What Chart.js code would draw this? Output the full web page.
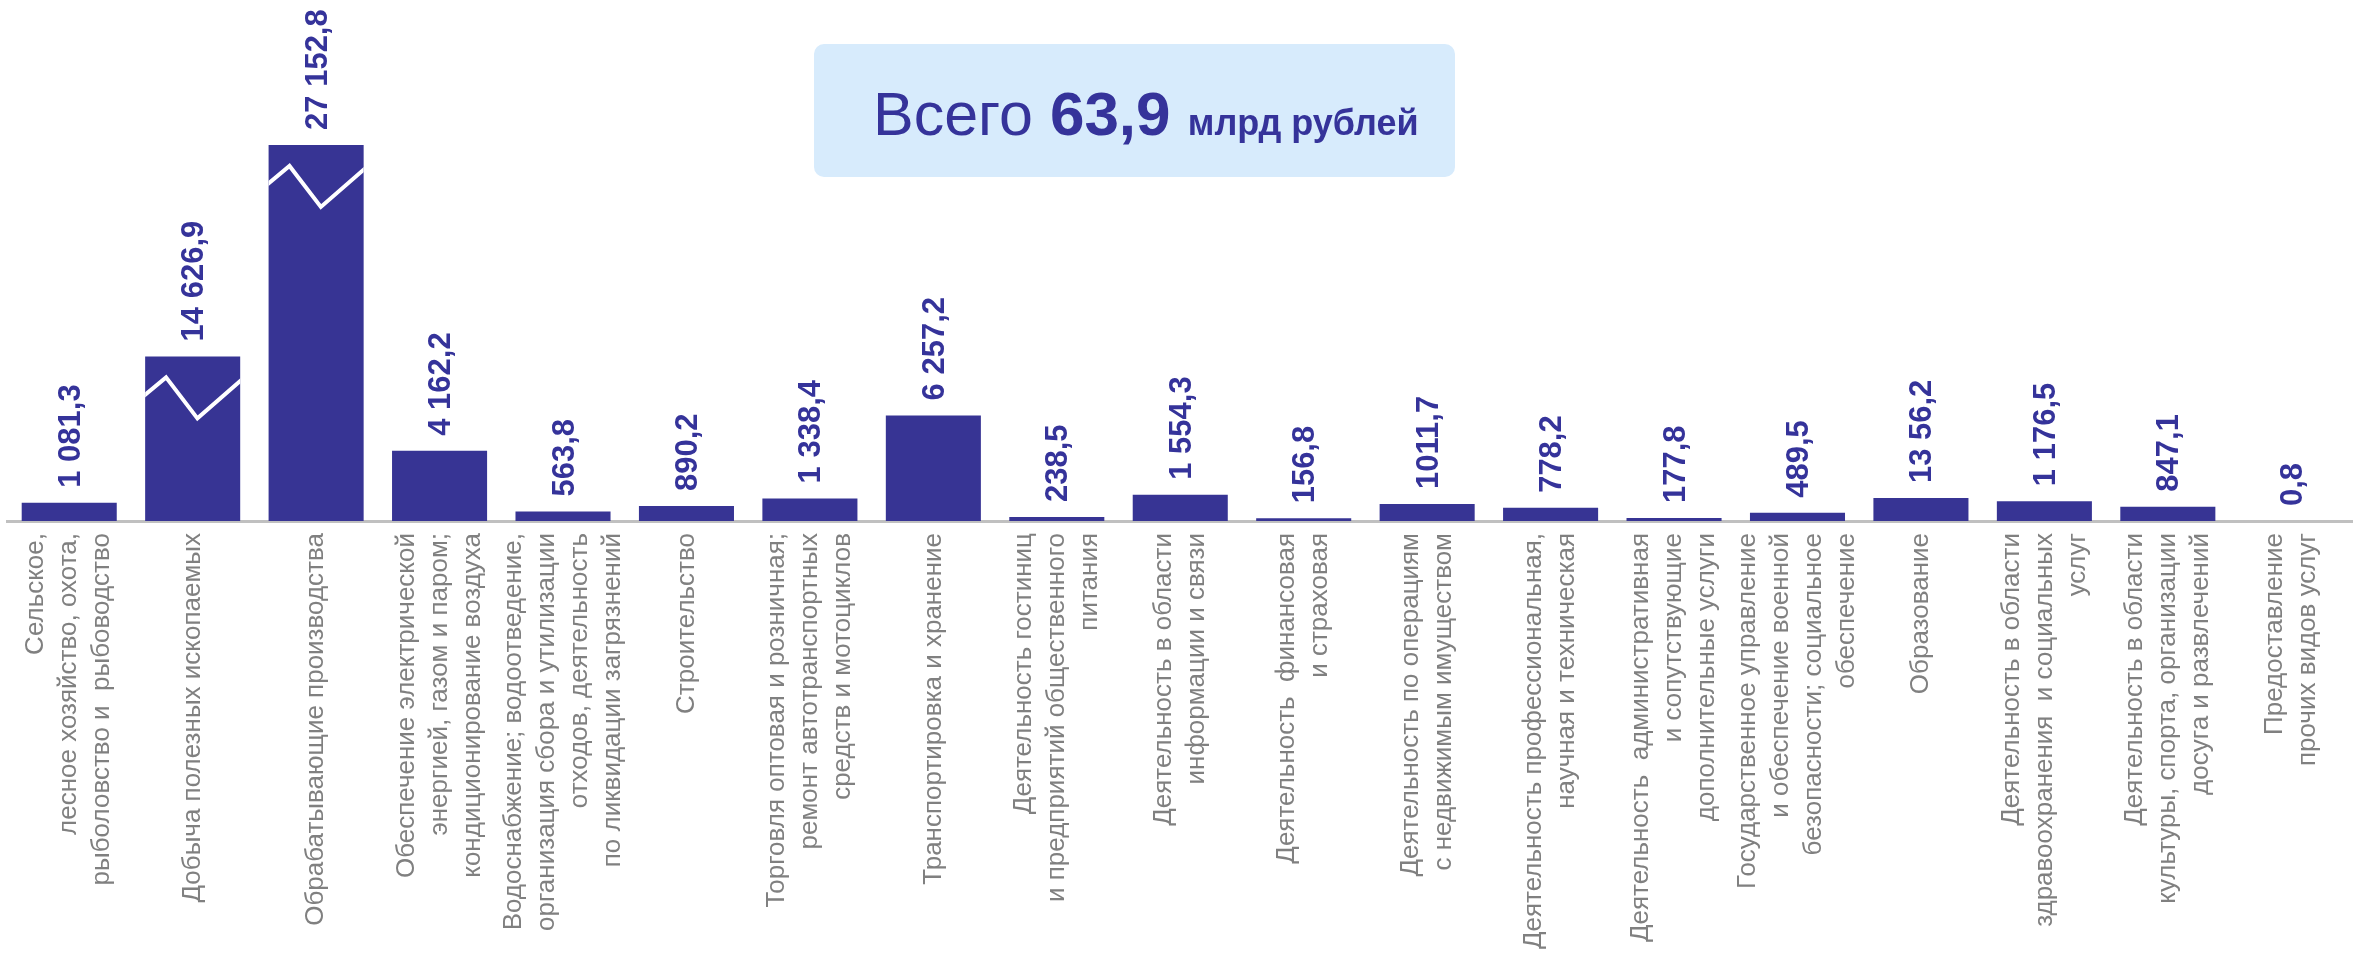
<!DOCTYPE html>
<html>
<head>
<meta charset="utf-8">
<script src="https://cdn.jsdelivr.net/npm/chart.js@4.4.0/dist/chart.umd.min.js"></script>
<style>
  html, body { margin: 0; padding: 0; background: #ffffff; }
  #wrap { width: 2353px; height: 965px; position: relative; }
  canvas { display: block; }
</style>
</head>
<body>
<div id="wrap"><canvas id="chart" width="2353" height="965"></canvas></div>
<script>
// ---------- data ----------
const categories = [
  ["Сельское,", "лесное хозяйство, охота,", "рыболовство и  рыбоводство"],
  ["Добыча полезных ископаемых"],
  ["Обрабатывающие производства"],
  ["Обеспечение электрической", "энергией, газом и паром;", "кондиционирование воздуха"],
  ["Водоснабжение; водоотведение,", "организация сбора и утилизации", "отходов, деятельность", "по ликвидации загрязнений"],
  ["Строительство"],
  ["Торговля оптовая и розничная;", "ремонт автотранспортных", "средств и мотоциклов"],
  ["Транспортировка и хранение"],
  ["Деятельность гостиниц", "и предприятий общественного", "питания"],
  ["Деятельность в области", "информации и связи"],
  ["Деятельность  финансовая", "и страховая"],
  ["Деятельность по операциям", "с недвижимым имуществом"],
  ["Деятельность профессиональная,", "научная и техническая"],
  ["Деятельность  административная", "и сопутствующие", "дополнительные услуги"],
  ["Государственное управление", "и обеспечение военной", "безопасности; социальное", "обеспечение"],
  ["Образование"],
  ["Деятельность в области", "здравоохранения  и социальных", "услуг"],
  ["Деятельность в области", "культуры, спорта, организации", "досуга и развлечений"],
  ["Предоставление", "прочих видов услуг"]
];
const values = [1081.3, 14626.9, 27152.8, 4162.2, 563.8, 890.2, 1338.4, 6257.2, 238.5, 1554.3,
                156.8, 1011.7, 778.2, 177.8, 489.5, 1356.2, 1176.5, 847.1, 0.8];
const valueLabels = ["1 081,3", "14 626,9", "27 152,8", "4 162,2", "563,8", "890,2", "1 338,4", "6 257,2",
                     "238,5", "1 554,3", "156,8", "1011,7", "778,2", "177,8", "489,5", "13 56,2",
                     "1 176,5", "847,1", "0,8"];
const totalWord = "Всего";
const totalValue = "63,9";
const totalUnit = "млрд рублей";

// ---------- styles ----------
const FONT = '"Liberation Sans", Arial, Helvetica, sans-serif';
const BAR_COLOR = '#373494';
const VALUE_COLOR = '#35339a';
const CAT_COLOR = '#808080';

// ---------- broken (gap) linear scale ----------
class BrokenLinearScale extends Chart.LinearScale {
  squash(v) {
    const g = this.options.gap;
    if (!g) return v;
    if (v <= g.from) return v;
    if (v >= g.to) return v - (g.to - g.from);
    return g.from;
  }
  getPixelForValue(value) {
    if (value === null || value === undefined || isNaN(value)) return NaN;
    const lo = this.squash(this.min), hi = this.squash(this.max);
    return this.getPixelForDecimal((this.squash(value) - lo) / (hi - lo));
  }
  getValueForPixel(pixel) {
    const lo = this.squash(this.min), hi = this.squash(this.max);
    const s = lo + this.getDecimalForPixel(pixel) * (hi - lo);
    const g = this.options.gap;
    return (g && s > g.from) ? s + (g.to - g.from) : s;
  }
}
BrokenLinearScale.id = 'brokenLinear';
Chart.register(BrokenLinearScale);

// ---------- plugins ----------
const barDecor = {
  id: 'barDecor',
  afterDatasetsDraw(chart) {
    const ctx = chart.ctx;
    const meta = chart.getDatasetMeta(0);
    const gap = chart.scales.y.options.gap;
    ctx.save();
    // break marks on the bars that cross the axis gap
    meta.data.forEach((bar, i) => {
      if (!(values[i] > gap.to)) return;
      const w = bar.width, left = bar.x - w / 2, right = bar.x + w / 2, top = bar.y;
      ctx.save();
      ctx.beginPath();
      ctx.rect(left, top, w, bar.base - top);
      ctx.clip();
      ctx.beginPath();
      ctx.moveTo(left - 2, top + 40);
      ctx.lineTo(left + 0.22 * w, top + 21);
      ctx.lineTo(left + 0.55 * w, top + 62);
      ctx.lineTo(right + 2, top + 23);
      ctx.strokeStyle = '#ffffff';
      ctx.lineWidth = 4;
      ctx.lineJoin = 'miter';
      ctx.stroke();
      ctx.restore();
    });
    // value labels
    ctx.font = 'bold 31px ' + FONT;
    ctx.fillStyle = VALUE_COLOR;
    ctx.textAlign = 'left';
    ctx.textBaseline = 'middle';
    meta.data.forEach((bar, i) => {
      ctx.save();
      ctx.translate(bar.x + 2, bar.y - 15);
      ctx.rotate(-Math.PI / 2);
      ctx.fillText(valueLabels[i], 0, 0);
      ctx.restore();
    });
    ctx.restore();
  }
};

const categoryLabels = {
  id: 'categoryLabels',
  afterDraw(chart) {
    const ctx = chart.ctx;
    const xs = chart.scales.x;
    const top = chart.chartArea.bottom + 12;
    const lineH = 33;
    ctx.save();
    ctx.font = '26px ' + FONT;
    ctx.fillStyle = CAT_COLOR;
    ctx.textAlign = 'right';
    ctx.textBaseline = 'middle';
    categories.forEach((lines, i) => {
      const cx = xs.getPixelForValue(i);
      const n = lines.length;
      lines.forEach((line, j) => {
        ctx.save();
        ctx.translate(cx + (j - (n - 1) / 2) * lineH, top);
        ctx.rotate(-Math.PI / 2);
        ctx.fillText(line, 0, 0);
        ctx.restore();
      });
    });
    ctx.restore();
  }
};

const totalBox = {
  id: 'totalBox',
  afterDraw(chart) {
    const ctx = chart.ctx;
    ctx.save();
    ctx.fillStyle = '#d7ebfc';
    ctx.beginPath();
    ctx.roundRect(814, 44, 641, 133, 10);
    ctx.fill();
    ctx.fillStyle = VALUE_COLOR;
    ctx.textBaseline = 'alphabetic';
    ctx.textAlign = 'left';
    const baseY = 135;
    let x = 873;
    ctx.font = '61px ' + FONT;
    ctx.fillText(totalWord, x, baseY);
    x += ctx.measureText(totalWord + ' ').width;
    ctx.font = 'bold 62px ' + FONT;
    ctx.fillText(totalValue, x, baseY);
    x += ctx.measureText(totalValue + ' ').width;
    ctx.font = 'bold 36px ' + FONT;
    ctx.fillText(totalUnit, x, baseY);
    ctx.restore();
  }
};

// ---------- chart ----------
new Chart(document.getElementById('chart'), {
  type: 'bar',
  data: {
    labels: categories,
    datasets: [{
      data: values,
      backgroundColor: BAR_COLOR,
      borderWidth: 0,
      barPercentage: 0.77,
      categoryPercentage: 1.0
    }]
  },
  options: {
    responsive: false,
    devicePixelRatio: 1,
    animation: false,
    layout: { padding: { left: 7.5, right: 0, top: 0, bottom: 444 } },
    plugins: { legend: { display: false }, tooltip: { enabled: false } },
    scales: {
      x: {
        type: 'category',
        offset: true,
        grid: { display: false, drawTicks: false },
        ticks: { display: false },
        border: { display: true, color: '#c0c0c0', width: 3 }
      },
      y: {
        type: 'brokenLinear',
        display: false,
        min: 0,
        max: 35740,
        gap: { from: 7000, to: 11874 }
      }
    }
  },
  plugins: [barDecor, categoryLabels, totalBox]
});
</script>
</body>
</html>
